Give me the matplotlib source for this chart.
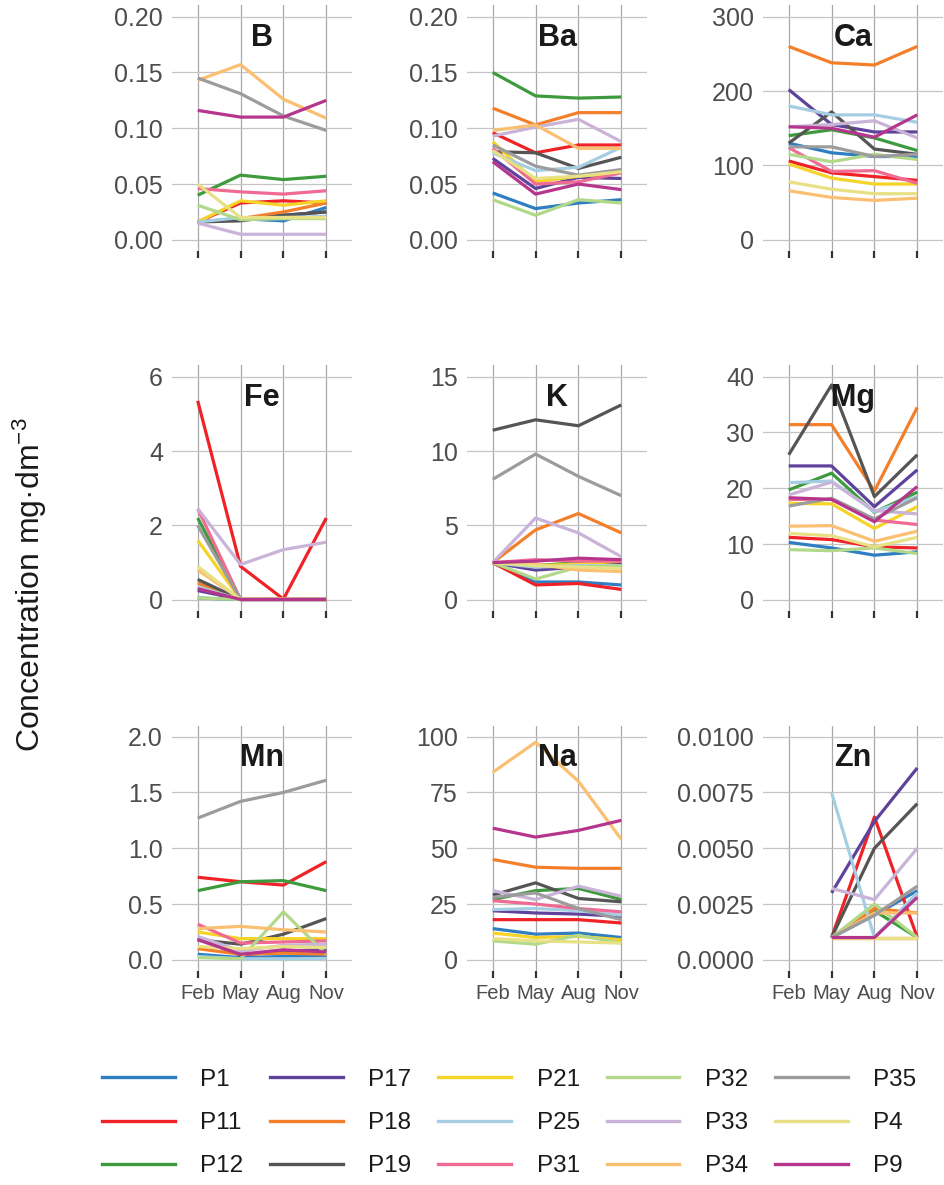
import numpy as np
import matplotlib
matplotlib.use("Agg")
import matplotlib.pyplot as plt
from matplotlib.lines import Line2D

plt.rcParams["font.family"] = ["Liberation Sans", "DejaVu Sans"]
plt.rcParams["mathtext.fontset"] = "custom"
plt.rcParams["mathtext.rm"] = "Liberation Sans"
plt.rcParams["mathtext.it"] = "Liberation Sans:italic"

months = ["Feb", "May", "Aug", "Nov"]
sites = ["P1", "P11", "P12", "P17", "P18", "P19", "P21", "P25",
         "P31", "P32", "P33", "P34", "P35", "P4", "P9"]
colors = ["#2f7ec1", "#ee2227", "#3d9b3d", "#5f429b", "#f47f2a", "#555555",
          "#f5d327", "#a6cee3", "#f06b93", "#b2d98a", "#c9b3d9", "#fbbf72",
          "#9c9c9c", "#e8e084", "#b5368c"]
elements = ["B", "Ba", "Ca", "Fe", "K", "Mg", "Mn", "Na", "Zn"]

nan = np.nan

# concentrations per element: one row per site (order of `sites`), columns Feb, May, Aug, Nov
B = [
    [0.016, 0.019, 0.017, 0.029],  # P1
    [0.016, 0.033, 0.035, 0.033],  # P11
    [0.040, 0.058, 0.054, 0.057],  # P12
    [0.016, 0.019, 0.022, 0.025],  # P17
    [0.016, 0.019, 0.025, 0.033],  # P18
    [0.016, 0.017, 0.022, 0.025],  # P19
    [0.016, 0.035, 0.031, 0.035],  # P21
    [0.016, 0.020, 0.020, 0.021],  # P25
    [0.046, 0.043, 0.041, 0.044],  # P31
    [0.031, 0.018, 0.019, 0.019],  # P32
    [0.015, 0.005, 0.005, 0.005],  # P33
    [0.143, 0.157, 0.126, 0.109],  # P34
    [0.145, 0.131, 0.111, 0.098],  # P35
    [0.050, 0.020, 0.020, 0.020],  # P4
    [0.116, 0.110, 0.110, 0.125],  # P9
]
Ba = [
    [0.042, 0.028, 0.033, 0.036],
    [0.096, 0.078, 0.085, 0.085],
    [0.150, 0.129, 0.127, 0.128],
    [0.073, 0.046, 0.056, 0.055],
    [0.118, 0.103, 0.114, 0.114],
    [0.079, 0.078, 0.064, 0.074],
    [0.088, 0.052, 0.057, 0.060],
    [0.078, 0.062, 0.065, 0.083],
    [0.082, 0.050, 0.052, 0.060],
    [0.036, 0.022, 0.036, 0.033],
    [0.093, 0.101, 0.108, 0.088],
    [0.098, 0.103, 0.082, 0.082],
    [0.085, 0.066, 0.058, 0.063],
    [0.080, 0.055, 0.057, 0.061],
    [0.070, 0.041, 0.050, 0.045],
]
Ca = [
    [130, 117, 112, 112],
    [106, 90, 85, 80],
    [140, 148, 137, 120],
    [202, 155, 145, 145],
    [260, 238, 235, 260],
    [130, 172, 122, 115],
    [102, 83, 75, 75],
    [180, 168, 168, 158],
    [124, 92, 93, 76],
    [115, 105, 115, 108],
    [152, 155, 160, 137],
    [66, 57, 53, 56],
    [125, 125, 112, 115],
    [78, 68, 62, 62],
    [152, 150, 138, 168],
]
Fe = [
    [0.05, 0.01, 0.01, 0.01],
    [5.35, 0.90, 0.02, 2.20],
    [2.20, 0.01, 0.01, 0.01],
    [0.25, 0.01, 0.01, 0.01],
    [0.45, 0.01, 0.01, 0.01],
    [0.55, 0.01, 0.01, 0.01],
    [1.60, 0.01, 0.01, 0.01],
    [0.35, 0.01, 0.01, 0.01],
    [2.45, 0.01, 0.01, 0.01],
    [0.05, 0.01, 0.01, 0.01],
    [2.45, 0.95, 1.35, 1.55],
    [0.80, 0.02, 0.02, 0.01],
    [2.00, 0.01, 0.01, 0.01],
    [0.90, 0.01, 0.01, 0.01],
    [0.30, 0.01, 0.01, 0.01],
]
K = [
    [2.5, 1.2, 1.2, 1.0],
    [2.5, 1.0, 1.1, 0.7],
    [2.5, 2.3, 2.5, 2.5],
    [2.5, 2.0, 2.2, 2.5],
    [2.5, 4.7, 5.8, 4.5],
    [11.4, 12.1, 11.7, 13.1],
    [2.5, 2.3, 2.4, 2.6],
    [2.5, 2.2, 2.3, 2.3],
    [2.5, 2.7, 2.6, 2.6],
    [2.5, 1.4, 2.2, 2.3],
    [2.5, 5.5, 4.5, 2.9],
    [2.5, 2.4, 2.0, 1.9],
    [8.1, 9.8, 8.3, 7.0],
    [2.5, 2.3, 2.2, 2.1],
    [2.5, 2.6, 2.8, 2.7],
]
Mg = [
    [10.3, 9.3, 8.0, 8.6],
    [11.2, 10.8, 9.5, 9.3],
    [19.7, 22.7, 15.7, 19.3],
    [24.0, 24.0, 16.7, 23.3],
    [31.4, 31.4, 19.5, 34.5],
    [26.0, 38.5, 18.5, 26.0],
    [17.3, 17.2, 12.8, 16.7],
    [21.0, 21.3, 15.8, 18.5],
    [18.0, 18.0, 14.3, 13.5],
    [9.0, 8.8, 9.3, 8.3],
    [18.8, 21.1, 16.0, 15.4],
    [13.2, 13.3, 10.5, 12.3],
    [16.8, 18.2, 14.5, 18.3],
    [11.9, 11.5, 9.5, 11.2],
    [18.3, 18.0, 14.0, 20.3],
]
Mn = [
    [0.05, 0.02, 0.03, 0.04],
    [0.74, 0.70, 0.67, 0.88],
    [0.62, 0.70, 0.71, 0.62],
    [0.19, 0.04, 0.08, 0.09],
    [0.10, 0.05, 0.06, 0.05],
    [0.18, 0.14, 0.23, 0.37],
    [0.25, 0.19, 0.19, 0.19],
    [0.03, 0.01, 0.01, 0.01],
    [0.32, 0.15, 0.16, 0.17],
    [0.02, 0.01, 0.43, 0.05],
    [0.21, 0.08, 0.13, 0.14],
    [0.28, 0.30, 0.27, 0.25],
    [1.27, 1.42, 1.50, 1.61],
    [0.12, 0.10, 0.12, 0.11],
    [0.18, 0.05, 0.09, 0.07],
]
Na = [
    [14.0, 11.5, 12.0, 10.0],
    [18.0, 18.0, 18.0, 16.5],
    [27.0, 31.0, 32.0, 27.0],
    [22.0, 21.0, 20.5, 19.5],
    [45.0, 41.5, 41.0, 41.0],
    [29.0, 34.5, 27.5, 26.0],
    [12.0, 10.0, 10.5, 9.0],
    [22.5, 23.0, 22.0, 20.0],
    [26.5, 25.0, 23.0, 21.5],
    [8.5, 7.0, 11.0, 7.5],
    [31.0, 27.0, 33.0, 28.5],
    [84.0, 97.5, 80.0, 54.0],
    [28.0, 30.0, 23.0, 18.0],
    [9.5, 8.5, 8.0, 7.5],
    [59.0, 55.0, 58.0, 62.5],
]
Zn = [
    [nan, 0.0010, 0.0020, 0.0031],
    [nan, 0.0010, 0.0064, 0.0010],
    [nan, 0.0010, 0.0022, 0.0010],
    [nan, 0.0030, 0.0062, 0.0086],
    [nan, 0.0010, 0.0023, 0.0021],
    [nan, 0.0010, 0.0050, 0.0070],
    [nan, 0.0010, 0.0010, 0.0010],
    [nan, 0.0075, 0.0010, 0.0030],
    [nan, 0.0010, 0.0010, 0.0010],
    [nan, 0.0010, 0.0025, 0.0010],
    [nan, 0.0032, 0.0027, 0.0050],
    [nan, 0.0010, 0.0021, 0.0021],
    [nan, 0.0010, 0.0020, 0.0033],
    [nan, 0.0010, 0.0010, 0.0010],
    [nan, 0.0010, 0.0010, 0.0028],
]
data = {"B": B, "Ba": Ba, "Ca": Ca, "Fe": Fe, "K": K, "Mg": Mg,
        "Mn": Mn, "Na": Na, "Zn": Zn}

# y-axis breaks for each panel
y_ticks = {
    "B": [0.00, 0.05, 0.10, 0.15, 0.20],
    "Ba": [0.00, 0.05, 0.10, 0.15, 0.20],
    "Ca": [0, 100, 200, 300],
    "Fe": [0, 2, 4, 6],
    "K": [0, 5, 10, 15],
    "Mg": [0, 10, 20, 30, 40],
    "Mn": [0.0, 0.5, 1.0, 1.5, 2.0],
    "Na": [0, 25, 50, 75, 100],
    "Zn": [0.0, 0.0025, 0.0050, 0.0075, 0.0100],
}
y_fmt = {"B": "{:.2f}", "Ba": "{:.2f}", "Ca": "{:.0f}", "Fe": "{:.0f}",
         "K": "{:.0f}", "Mg": "{:.0f}", "Mn": "{:.1f}", "Na": "{:.0f}",
         "Zn": "{:.4f}"}

W, H = 944, 1185
fig = plt.figure(figsize=(W / 100, H / 100), dpi=100)

col_left = [172, 467, 763]
row_top = [5.5, 365.5, 725.5]
pw, ph = 180, 245.5

x = np.arange(len(months))

for i, el in enumerate(elements):
    r, c = divmod(i, 3)
    ax = fig.add_axes([col_left[c] / W, 1 - (row_top[r] + ph) / H, pw / W, ph / H])
    vals = np.array(data[el], dtype=float)
    for s, col, row in zip(sites, colors, vals):
        ax.plot(x, row, color=col, lw=2.3, solid_capstyle="butt", zorder=3)
    ticks = y_ticks[el]
    span = ticks[-1] - ticks[0]
    ax.set_ylim(ticks[0] - 0.05 * span, ticks[-1] + 0.05 * span)
    ax.set_xlim(-0.6, len(months) - 1 + 0.6)
    ax.set_yticks(ticks)
    ax.set_yticklabels([y_fmt[el].format(t) for t in ticks])
    ax.set_xticks(x)
    if r == 2:
        ax.set_xticklabels(months)
    else:
        ax.set_xticklabels([])
    ax.grid(True, axis="y", color="#c4c4c4", lw=0.9, zorder=0)
    ax.grid(True, axis="x", color="#a8a8a8", lw=0.9, zorder=0)
    ax.set_axisbelow(True)
    for sp in ax.spines.values():
        sp.set_visible(False)
    ax.tick_params(axis="y", length=0, pad=6.5, labelsize=18, labelcolor="#4d4d4d")
    ax.tick_params(axis="x", length=5, width=1.6, color="#333333", pad=4.5,
                   labelsize=14.5, labelcolor="#4d4d4d")
    ax.text(0.5, 0.866, el, transform=ax.transAxes, ha="center", va="center",
            fontsize=22, fontweight="bold", color="#1a1a1a", zorder=5)

fig.text(30 / W, 1 - 585 / H, "Concentration mg·dm$^{-3}$", rotation=90,
         ha="center", va="center", fontsize=23, color="#1a1a1a")

handles = [Line2D([], [], color=col, lw=2.4) for col in colors]
fig.legend(handles, sites, loc="center", bbox_to_anchor=(509 / W, 1 - 1123 / H),
           ncol=5, frameon=False, fontsize=17.5, handlelength=3.0,
           handletextpad=1.05, columnspacing=1.1, labelspacing=0.88,
           labelcolor="#1a1a1a")

fig.savefig("out.png", dpi=100)
